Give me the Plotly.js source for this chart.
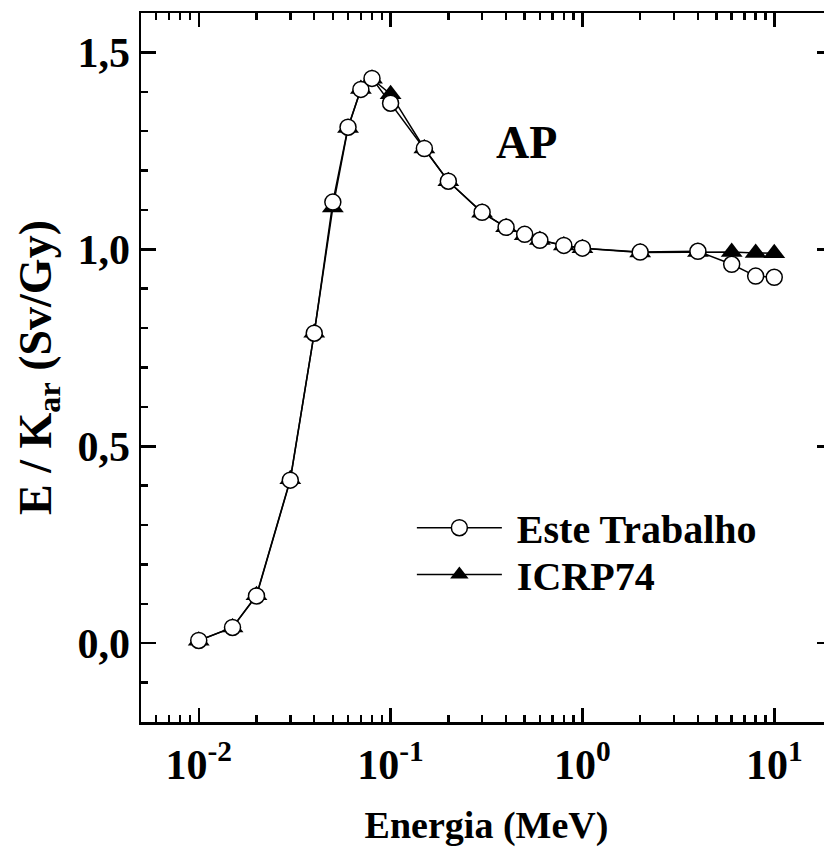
<!DOCTYPE html>
<html>
<head>
<meta charset="utf-8">
<script src="https://cdn.plot.ly/plotly-3.0.1.min.js"></script>
<style>
html,body{margin:0;padding:0;overflow:hidden;background:#fff;}
#chart{width:840px;height:847px;}
</style>
</head>
<body>
<div id="chart"></div>
<script>
// Energy (MeV)
var energia = [0.01, 0.015, 0.02, 0.03, 0.04, 0.05, 0.06, 0.07, 0.08, 0.1, 0.15, 0.2, 0.3, 0.4, 0.5, 0.6, 0.8, 1, 2, 4, 6, 8, 10];
// E / K_ar (Sv/Gy) - Este Trabalho
var esteTrabalho = [0.007, 0.040, 0.120, 0.414, 0.787, 1.120, 1.310, 1.406, 1.434, 1.371, 1.256, 1.173, 1.094, 1.056, 1.038, 1.023, 1.010, 1.003, 0.993, 0.995, 0.962, 0.932, 0.929];
// E / K_ar (Sv/Gy) - ICRP74
var icrp74 = [0.0065, 0.040, 0.122, 0.416, 0.788, 1.106, 1.308, 1.407, 1.433, 1.394, 1.256, 1.173, 1.093, 1.056, 1.036, 1.024, 1.010, 1.003, 0.992, 0.993, 0.993, 0.991, 0.990];

var xTickVals = [0.01, 0.1, 1, 10];
var xTickText = ['10<sup>-2</sup>', '10<sup>-1</sup>', '10<sup>0</sup>', '10<sup>1</sup>'];
var yTickVals = [0, 0.5, 1.0, 1.5];
var yTickText = ['0,0', '0,5', '1,0', '1,5'];

var xMinor = [];
[0.001, 0.01, 0.1, 1, 10].forEach(function(d){
  for (var k = 2; k <= 9; k++) { xMinor.push(k * d); }
});

var fontFam = '"Liberation Serif", "Times New Roman", serif';
function F(size){ return {family: fontFam, size: size, color: '#000', weight: 'bold'}; }

var xRange = [Math.log10(0.005), Math.log10(20)];
var yRange = [-0.2, 1.6];

var traces = [
  {
    x: energia, y: icrp74, name: '\u00a0ICRP74', type: 'scatter', mode: 'lines+markers',
    legend: 'legend2',
    line: {color: '#000', width: 1.5},
    marker: {symbol: 'triangle-up', size: 19, color: '#000', line: {color: '#000', width: 0}}
  },
  {
    x: energia, y: esteTrabalho, name: '\u00a0Este Trabalho', type: 'scatter', mode: 'lines+markers',
    legend: 'legend',
    line: {color: '#000', width: 1.5},
    marker: {symbol: 'circle', size: 16, color: '#fff', line: {color: '#000', width: 1.5}}
  }
];

var legendCommon = {
  xanchor: 'left', yanchor: 'middle',
  font: F(40), bgcolor: 'rgba(0,0,0,0)', borderwidth: 0,
  itemwidth: 85
};

var layout = {
  width: 840, height: 847,
  margin: {l: 141, r: 7.5, t: 12.7, b: 125},
  paper_bgcolor: '#fff', plot_bgcolor: '#fff',
  showlegend: true,
  legend: Object.assign({x: 0.392, y: 0.274}, legendCommon),
  legend2: Object.assign({x: 0.392, y: 0.208}, legendCommon),
  xaxis: {
    type: 'log', range: xRange,
    tickmode: 'array', tickvals: xTickVals, ticktext: xTickText,
    ticks: 'inside', ticklen: 14, tickwidth: 2.5, tickcolor: '#000',
    minor: {tickmode: 'array', tickvals: xMinor, ticks: 'inside', ticklen: 7, tickwidth: 2.5, tickcolor: '#000', showgrid: false},
    showline: true, linewidth: 2.5, linecolor: '#000', mirror: 'ticks',
    showgrid: false, zeroline: false,
    tickfont: F(42), ticklabelstandoff: 4,
    title: {text: 'Energia (MeV)', font: F(38), standoff: 30},
    automargin: false
  },
  yaxis: {
    range: yRange,
    tickmode: 'array', tickvals: yTickVals, ticktext: yTickText,
    ticks: 'inside', ticklen: 15, tickwidth: 2.5, tickcolor: '#000',
    minor: {tickmode: 'linear', tick0: 0, dtick: 0.1, ticks: 'inside', ticklen: 7, tickwidth: 2.5, tickcolor: '#000', showgrid: false},
    showline: true, linewidth: 2.5, linecolor: '#000', mirror: 'ticks',
    showgrid: false, zeroline: false,
    tickfont: F(42), ticklabelstandoff: 0,
    title: {text: 'E / K<sub>ar</sub> (Sv/Gy)', font: F(46), standoff: 12},
    automargin: false
  },
  annotations: [
    {x: Math.log10(0.51), y: 1.27, xref: 'x', yref: 'y', text: 'AP', showarrow: false, font: F(46)}
  ]
};

Plotly.newPlot('chart', traces, layout, {displayModeBar: false, staticPlot: true});
</script>
</body>
</html>
